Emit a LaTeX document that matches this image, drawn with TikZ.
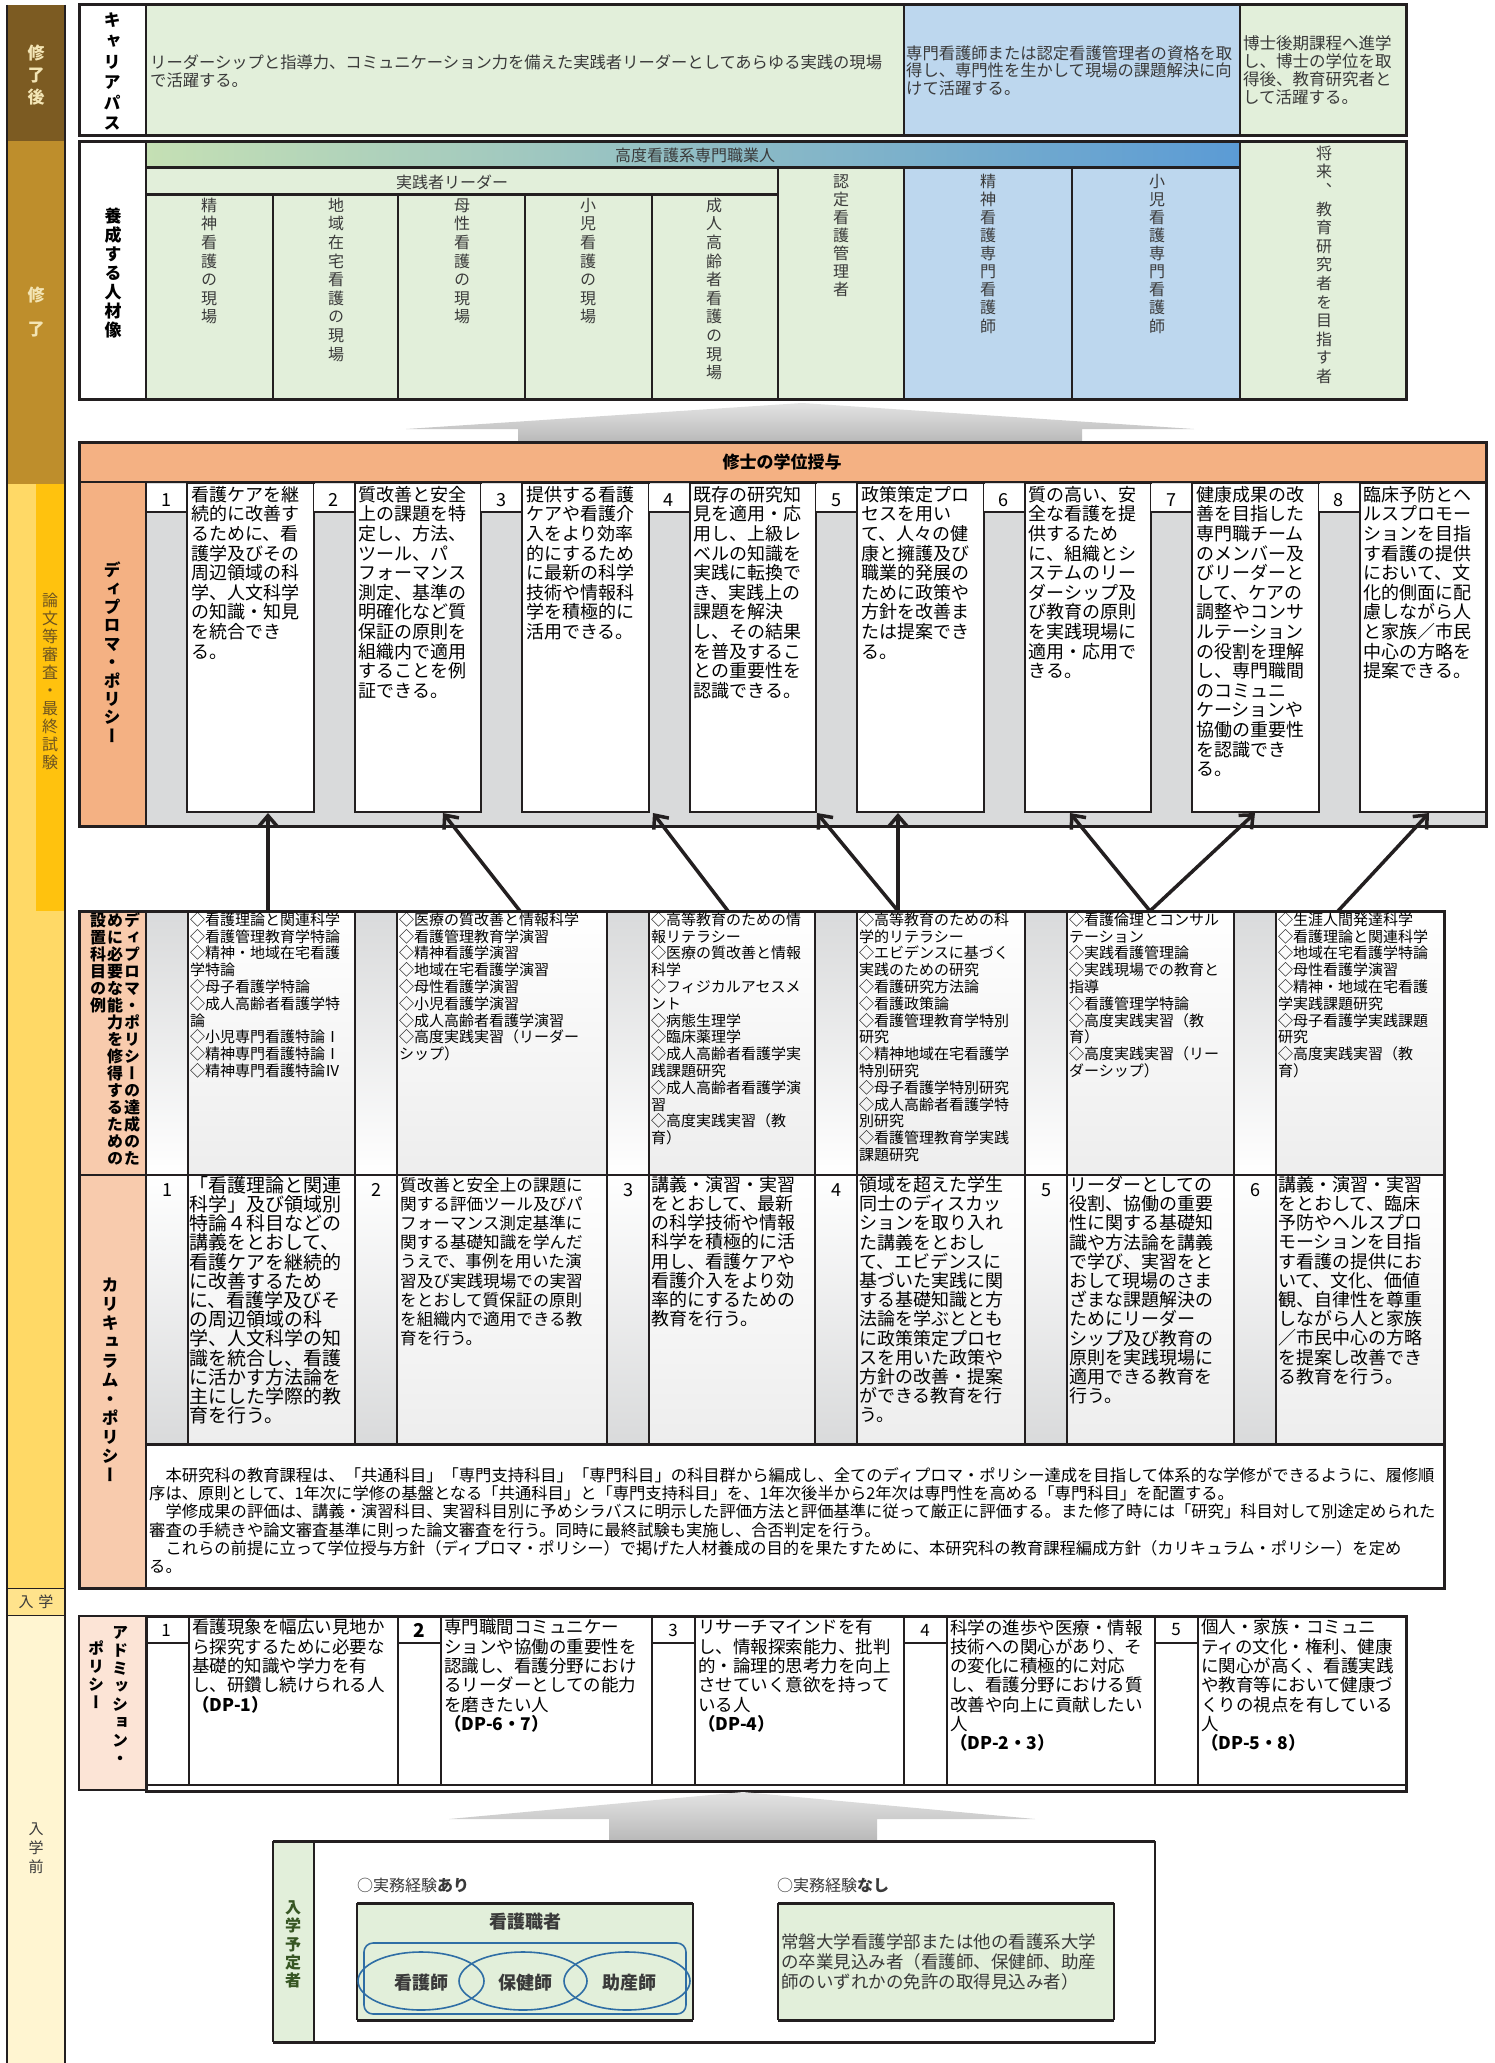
\documentclass[tikz,border=0pt]{standalone}
\usepackage{fontspec}
\setmainfont{Noto Sans CJK JP}
\newfontfamily\vjp{Noto Sans CJK JP}[RawFeature=+vert]
\usetikzlibrary{arrows.meta,shapes.geometric}
\definecolor{brownA}{HTML}{7C5B22}
\definecolor{goldA}{HTML}{BE8E2C}
\definecolor{yelA}{HTML}{FFD966}
\definecolor{yelB}{HTML}{FFC20E}
\definecolor{yelC}{HTML}{FFE38C}
\definecolor{creamA}{HTML}{FFF5D1}
\definecolor{greenA}{HTML}{E2EFDA}
\definecolor{blueA}{HTML}{BDD7EE}
\definecolor{orangeA}{HTML}{F4B183}
\definecolor{peachA}{HTML}{F8CBAD}
\definecolor{pinkA}{HTML}{FCE4D6}
\definecolor{grayA}{HTML}{D9DADB}
\definecolor{lineA}{HTML}{231F20}
\definecolor{txtA}{HTML}{3A3A3A}
\definecolor{dgreen}{HTML}{375623}
\definecolor{blueB}{HTML}{2F6EA5}
\definecolor{barL}{HTML}{C5E0B4}
\definecolor{barR}{HTML}{5B9BD5}
\definecolor{sbLight}{HTML}{F3E5B5}
\definecolor{sbDark}{HTML}{6E5420}

\ExplSyntaxOn
\NewDocumentCommand\vstack{O{1.15em}m}{
  \vbox{\baselineskip=#1\lineskiplimit=-\maxdimen\lineskip=0pt
    \tl_map_inline:nn {#2} {\hbox_to_wd:nn{1em}{\hss ##1\hss\vrule~height~.88em~depth~.12em~width~0pt}}}}
\ExplSyntaxOff

\tikzset{
  fr/.style={draw=lineA, line width=3pt},
  ln/.style={draw=lineA, line width=2pt},
  tx/.style={inner sep=0pt, anchor=north west, align=left, text=black},
  toptx/.style={inner sep=0pt, anchor=west, align=left, text=txtA},
  dptx/.style={tx, font=\fontsize{18}{19.6}\selectfont},
  lsttx/.style={tx, font=\fontsize{15}{16.8}\selectfont},
  cptx/.style={tx, font=\fontsize{18}{19.2}\selectfont},
  adtx/.style={tx, font=\fontsize{17.5}{19.3}\selectfont},
  num/.style={inner sep=0pt, font=\fontsize{18}{18}\selectfont},
  vlab/.style={inner sep=0pt, font=\vjp\bfseries\fontsize{17}{17}\selectfont},
  vcol/.style={inner sep=0pt, anchor=north, text=txtA, font=\vjp\fontsize{16}{16}\selectfont},
  arr/.style={draw=lineA, line width=3.5pt, -{Straight Barb[length=11pt,width=19pt]}},
}

\begin{document}
\begin{tikzpicture}[x=1pt,y=-1pt]
\useasboundingbox (0,0) rectangle (1495,2063);
\fill[white] (0,0) rectangle (1495,2063);

% ---------------- sidebar
\fill[brownA] (7,5) rectangle (65,141);
\fill[goldA] (7,141) rectangle (65,484);
\fill[yelA] (7,484) rectangle (65,1588);
\fill[yelB] (36,484) rectangle (65,911);
\fill[yelC] (7,1588) rectangle (65,1615);
\fill[creamA] (7,1615) rectangle (65,2063);
\draw[lineA, line width=0.8pt] (7,1588) -- (65,1588) (7,1615) -- (65,1615);
\draw[lineA, line width=2pt] (7,5) -- (7,2063) (65,5) -- (65,2063);
\node[vlab, text=sbLight, name=sbA] at (36,75) {\vstack[22pt]{修了後}};
\node[vlab, text=sbLight, name=sbB] at (36,312) {\vstack[34pt]{修了}};
\node[inner sep=0pt, text=sbDark, font=\vjp\fontsize{16}{16}\selectfont, name=sbC] at (50,681) {\vstack[18pt]{論文等審査・最終試験}};
\node[inner sep=0pt, text=txtA, font=\fontsize{15}{15}\selectfont, name=sbD] at (36,1602) {入\hspace{5pt}学};
\node[inner sep=0pt, text=txtA, font=\vjp\fontsize{15}{15}\selectfont, name=sbE] at (36,1848) {\vstack[19pt]{入学前}};

% ---------------- career path
\fill[white] (79,5) rectangle (146,136);
\fill[greenA] (146,5) rectangle (904,136);
\fill[blueA] (904,5) rectangle (1240,136);
\fill[greenA] (1240,5) rectangle (1406,136);
\draw[ln] (146,5) -- (146,136) (904,5) -- (904,136) (1240,5) -- (1240,136);
\draw[fr] (79,5) rectangle (1406,136);
\node[vlab, name=cpLab] at (112,72) {\vstack[20.6pt]{キャリアパス}};
\node[toptx, name=cpA, font=\fontsize{16.3}{18}\selectfont] at (150,71) {リーダーシップと指導力、コミュニケーション力を備えた実践者リーダーとしてあらゆる実践の現場\\で活躍する。};
\node[toptx, name=cpB, font=\fontsize{16.3}{17.7}\selectfont] at (906,70.5) {専門看護師または認定看護管理者の資格を取\\得し、専門性を生かして現場の課題解決に向\\けて活躍する。};
\node[toptx, name=cpC, font=\fontsize{16.5}{18}\selectfont] at (1243,70) {博士後期課程へ進学\\し、博士の学位を取\\得後、教育研究者と\\して活躍する。};

% ---------------- human resources
\fill[white] (79,142) rectangle (146,399);
\shade[left color=barL, right color=barR] (146,142) rectangle (1240,168);
\fill[greenA] (146,168) rectangle (904,399);
\fill[blueA] (904,168) rectangle (1240,399);
\fill[greenA] (1240,142) rectangle (1406,399);
\draw[ln] (146,142) -- (146,399);
\draw[lineA, line width=3pt] (146,168) -- (1240,168);
\draw[lineA, line width=3pt] (146,195) -- (778,195);
\draw[ln] (273,195) -- (273,399) (398,195) -- (398,399) (525,195) -- (525,399) (652,195) -- (652,399);
\draw[ln] (778,168) -- (778,399) (904,168) -- (904,399) (1072,168) -- (1072,399) (1240,142) -- (1240,399);
\draw[fr] (79,142) rectangle (1406,399);
\node[vlab, name=hrLab] at (113,273) {\vstack[18.9pt]{養成する人材像}};
\node[inner sep=0pt, text=txtA, font=\fontsize{16}{16}\selectfont, name=hrBar] at (695,155) {高度看護系専門職業人};
\node[inner sep=0pt, text=txtA, font=\fontsize{16}{16}\selectfont, name=hrLead] at (452,182) {実践者リーダー};
\node[vcol, name=hr1] at (209,197) {\vstack[18.6pt]{精神看護の現場}};
\node[vcol, name=hr2] at (336,197) {\vstack[18.6pt]{地域在宅看護の現場}};
\node[vcol, name=hr3] at (462,197) {\vstack[18.6pt]{母性看護の現場}};
\node[vcol, name=hr4] at (588,197) {\vstack[18.6pt]{小児看護の現場}};
\node[vcol, name=hr5] at (714,197) {\vstack[18.6pt]{成人高齢者看護の現場}};
\node[vcol, name=hr6] at (841,173) {\vstack[18pt]{認定看護管理者}};
\node[vcol, name=hr7] at (988,173) {\vstack[18.1pt]{精神看護専門看護師}};
\node[vcol, name=hr8] at (1157,173) {\vstack[18.1pt]{小児看護専門看護師}};
\node[vcol, name=hr9] at (1324,145) {\vstack[18.6pt]{将来、教育研究者を目指す者}};

% ---------------- big gray arrow 1
\shade[top color=gray!22, bottom color=gray!55] (802,403) -- (1194,429) -- (1082,429) -- (1082,442) -- (518,442) -- (518,429) -- (406,429) -- cycle;

% ---------------- diploma policy
\fill[orangeA] (79,442) rectangle (1486,482);
\fill[orangeA] (79,482) rectangle (146,826);
\fill[grayA] (146,482) rectangle (1486,826);
\foreach \s in {146,313.5,481,648.5,816,983.5,1151,1318.5}{
  \fill[white] (\s,484) rectangle (\s+41,512);
  \draw[ln] (\s,512) -- (\s+41,512);
  \draw[ln, fill=white] (\s+41,483) rectangle (\s+167.5,812);
}
\draw[ln] (79,482) -- (1486,482);
\draw[ln] (146,482) -- (146,826);
\draw[fr] (79,442) rectangle (1486,826);
\node[inner sep=0pt, font=\bfseries\fontsize{17}{17}\selectfont, name=dpHead] at (782,462) {修士の学位授与};
\node[vlab, name=dpLab] at (112,653) {\vstack[18.4pt]{ディプロマ・ポリシー}};
\node[num, name=dn1] at (166,500) {1};
\node[num, name=dn2] at (333.5,500) {2};
\node[num, name=dn3] at (501,500) {3};
\node[num, name=dn4] at (668.5,500) {4};
\node[num, name=dn5] at (836,500) {5};
\node[num, name=dn6] at (1003.5,500) {6};
\node[num, name=dn7] at (1171,500) {7};
\node[num, name=dn8] at (1338.5,500) {8};
\node[dptx, name=dt1] at (191,486) {看護ケアを継\\続的に改善す\\るために、看\\護学及びその\\周辺領域の科\\学、人文科学\\の知識・知見\\を統合でき\\る。};
\node[dptx, name=dt2] at (358.5,486) {質改善と安全\\上の課題を特\\定し、方法、\\ツール、パ\\フォーマンス\\測定、基準の\\明確化など質\\保証の原則を\\組織内で適用\\することを例\\証できる。};
\node[dptx, name=dt3] at (526,486) {提供する看護\\ケアや看護介\\入をより効率\\的にするため\\に最新の科学\\技術や情報科\\学を積極的に\\活用できる。};
\node[dptx, name=dt4] at (693.5,486) {既存の研究知\\見を適用・応\\用し、上級レ\\ベルの知識を\\実践に転換で\\き、実践上の\\課題を解決\\し、その結果\\を普及するこ\\との重要性を\\認識できる。};
\node[dptx, name=dt5] at (861,486) {政策策定プロ\\セスを用い\\て、人々の健\\康と擁護及び\\職業的発展の\\ために政策や\\方針を改善ま\\たは提案でき\\る。};
\node[dptx, name=dt6] at (1028.5,486) {質の高い、安\\全な看護を提\\供するため\\に、組織とシ\\ステムのリー\\ダーシップ及\\び教育の原則\\を実践現場に\\適用・応用で\\きる。};
\node[dptx, name=dt7] at (1196,486) {健康成果の改\\善を目指した\\専門職チーム\\のメンバー及\\びリーダーと\\して、ケアの\\調整やコンサ\\ルテーション\\の役割を理解\\し、専門職間\\のコミュニ\\ケーションや\\協働の重要性\\を認識でき\\る。};
\node[dptx, name=dt8] at (1363.5,486) {臨床予防とヘ\\ルスプロモー\\ションを目指\\す看護の提供\\において、文\\化的側面に配\\慮しながら人\\と家族／市民\\中心の方略を\\提案できる。};

% ---------------- curriculum
\fill[peachA] (79,911) rectangle (146,1588);
\foreach \s/\e in {146/355,355/607,607/815,815/1025,1025/1234,1234/1444}{
  \shade[top color=grayA, bottom color=white] (\s,911) rectangle (\s+42,1175);
  \shade[top color=white, bottom color=gray!14] (\s+42,911) rectangle (\e,1175);
  \shade[top color=white, bottom color=grayA] (\s,1175) rectangle (\s+42,1444);
  \shade[top color=white, bottom color=gray!14] (\s+42,1175) rectangle (\e,1444);
  \draw[ln] (\s,911) -- (\s,1444) (\s+42,911) -- (\s+42,1444);
}
\fill[white] (146,1444) rectangle (1444,1588);
\draw[ln] (79,1175) -- (1444,1175);
\draw[fr] (146,1444) -- (1444,1444);
\draw[ln] (146,911) -- (146,1588);
\draw[fr] (79,911) rectangle (1444,1588);
\node[inner sep=0pt, anchor=north, font=\vjp\bfseries\fontsize{16}{16}\selectfont, name=clR] at (132,912) {\vstack[17pt]{ディプロマ・ポリシーの達成のた}};
\node[inner sep=0pt, anchor=north, font=\vjp\bfseries\fontsize{16}{16}\selectfont, name=clM] at (115,912) {\vstack[17pt]{めに必要な能力を修得するための}};
\node[inner sep=0pt, anchor=north, font=\vjp\bfseries\fontsize{16}{16}\selectfont, name=clL] at (98,912) {\vstack[17pt]{設置科目の例}};
\node[vlab, name=cpolLab] at (110,1380) {\vstack[19pt]{カリキュラム・ポリシー}};

\node[lsttx, name=cl1] at (190,912) {◇看護理論と関連科学\\◇看護管理教育学特論\\◇精神・地域在宅看護\\学特論\\◇母子看護学特論\\◇成人高齢者看護学特\\論\\◇小児専門看護特論Ⅰ\\◇精神専門看護特論Ⅰ\\◇精神専門看護特論Ⅳ};
\node[lsttx, name=cl2] at (399,912) {◇医療の質改善と情報科学\\◇看護管理教育学演習\\◇精神看護学演習\\◇地域在宅看護学演習\\◇母性看護学演習\\◇小児看護学演習\\◇成人高齢者看護学演習\\◇高度実践実習（リーダー\\シップ）};
\node[lsttx, name=cl3] at (651,912) {◇高等教育のための情\\報リテラシー\\◇医療の質改善と情報\\科学\\◇フィジカルアセスメ\\ント\\◇病態生理学\\◇臨床薬理学\\◇成人高齢者看護学実\\践課題研究\\◇成人高齢者看護学演\\習\\◇高度実践実習（教\\育）};
\node[lsttx, name=cl4] at (859,912) {◇高等教育のための科\\学的リテラシー\\◇エビデンスに基づく\\実践のための研究\\◇看護研究方法論\\◇看護政策論\\◇看護管理教育学特別\\研究\\◇精神地域在宅看護学\\特別研究\\◇母子看護学特別研究\\◇成人高齢者看護学特\\別研究\\◇看護管理教育学実践\\課題研究};
\node[lsttx, name=cl5] at (1069,912) {◇看護倫理とコンサル\\テーション\\◇実践看護管理論\\◇実践現場での教育と\\指導\\◇看護管理学特論\\◇高度実践実習（教\\育）\\◇高度実践実習（リー\\ダーシップ）};
\node[lsttx, name=cl6] at (1278,912) {◇生涯人間発達科学\\◇看護理論と関連科学\\◇地域在宅看護学特論\\◇母性看護学演習\\◇精神・地域在宅看護\\学実践課題研究\\◇母子看護学実践課題\\研究\\◇高度実践実習（教\\育）};

\node[num, name=cn1] at (167,1190) {1};
\node[num, name=cn2] at (376,1190) {2};
\node[num, name=cn3] at (628,1190) {3};
\node[num, name=cn4] at (836,1190) {4};
\node[num, name=cn5] at (1046,1190) {5};
\node[num, name=cn6] at (1255,1190) {6};
\node[tx, name=ct1, font=\fontsize{19}{19.2}\selectfont] at (189,1176) {「看護理論と関連\\科学」及び領域別\\特論４科目などの\\講義をとおして、\\看護ケアを継続的\\に改善するため\\に、看護学及びそ\\の周辺領域の科\\学、人文科学の知\\識を統合し、看護\\に活かす方法論を\\主にした学際的教\\育を行う。};
\node[tx, name=ct2, font=\fontsize{16.6}{19.2}\selectfont] at (400,1177) {質改善と安全上の課題に\\関する評価ツール及びパ\\フォーマンス測定基準に\\関する基礎知識を学んだ\\うえで、事例を用いた演\\習及び実践現場での実習\\をとおして質保証の原則\\を組織内で適用できる教\\育を行う。};
\node[cptx, name=ct3] at (651,1176) {講義・演習・実習\\をとおして、最新\\の科学技術や情報\\科学を積極的に活\\用し、看護ケアや\\看護介入をより効\\率的にするための\\教育を行う。};
\node[cptx, name=ct4] at (859,1176) {領域を超えた学生\\同士のディスカッ\\ションを取り入れ\\た講義をとおし\\て、エビデンスに\\基づいた実践に関\\する基礎知識と方\\法論を学ぶととも\\に政策策定プロセ\\スを用いた政策や\\方針の改善・提案\\ができる教育を行\\う。};
\node[cptx, name=ct5] at (1069,1176) {リーダーとしての\\役割、協働の重要\\性に関する基礎知\\識や方法論を講義\\で学び、実習をと\\おして現場のさま\\ざまな課題解決の\\ためにリーダー\\シップ及び教育の\\原則を実践現場に\\適用できる教育を\\行う。};
\node[cptx, name=ct6] at (1278,1176) {講義・演習・実習\\をとおして、臨床\\予防やヘルスプロ\\モーションを目指\\す看護の提供にお\\いて、文化、価値\\観、自律性を尊重\\しながら人と家族\\／市民中心の方略\\を提案し改善でき\\る教育を行う。};

\node[tx, name=para, font=\fontsize{16.3}{18.3}\selectfont] at (149,1467) {　本研究科の教育課程は、「共通科目」「専門支持科目」「専門科目」の科目群から編成し、全てのディプロマ・ポリシー達成を目指して体系的な学修ができるように、履修順\\序は、原則として、1年次に学修の基盤となる「共通科目」と「専門支持科目」を、1年次後半から2年次は専門性を高める「専門科目」を配置する。\\　学修成果の評価は、講義・演習科目、実習科目別に予めシラバスに明示した評価方法と評価基準に従って厳正に評価する。また修了時には「研究」科目対して別途定められた\\審査の手続きや論文審査基準に則った論文審査を行う。同時に最終試験も実施し、合否判定を行う。\\　これらの前提に立って学位授与方針（ディプロマ・ポリシー）で掲げた人材養成の目的を果たすために、本研究科の教育課程編成方針（カリキュラム・ポリシー）を定め\\る。};

% ---------------- arrows curriculum -> DP
\coordinate (c1) at (268,911);
\coordinate (c2) at (520,911);
\coordinate (c3) at (728,911);
\coordinate (c4) at (898,911);
\coordinate (c5) at (1150,911);
\coordinate (c6) at (1338,911);
\coordinate (d1) at (268,813);
\coordinate (d2) at (443,813);
\coordinate (d3) at (653,813);
\coordinate (d4) at (817,813);
\coordinate (d5) at (898,813);
\coordinate (d6) at (1070,813);
\coordinate (d7) at (1255,813);
\coordinate (d8) at (1429,813);
\draw[arr] (c1) -- (d1);
\draw[arr] (c2) -- (d2);
\draw[arr] (c3) -- (d3);
\draw[arr] (c4) -- (d4);
\draw[arr] (c4) -- (d5);
\draw[arr] (c5) -- (d6);
\draw[arr] (c5) -- (d7);
\draw[arr] (c6) -- (d8);

% ---------------- admission policy
\fill[pinkA] (79,1616) rectangle (146,1790);
\draw[ln] (79,1616) rectangle (146,1790);
\fill[white] (146,1616) rectangle (1406,1790);
\foreach \s/\e in {146/398,398/652,652/904,904/1155,1155/1406}{
  \draw[ln] (\s+43,1616) -- (\s+43,1785);
  \draw[ln] (\s,1643) -- (\s+43,1643);
  \draw[ln] (\e,1616) -- (\e,1785);
}
\draw[lineA, line width=1.5pt] (146,1785) -- (1406,1785);
\draw[fr] (146,1616) rectangle (1406,1791);
\node[inner sep=0pt, anchor=north, font=\vjp\bfseries\fontsize{16}{16}\selectfont, name=apR] at (120,1624) {\vstack[18pt]{アドミッション・}};
\node[inner sep=0pt, anchor=north, font=\vjp\bfseries\fontsize{16}{16}\selectfont, name=apL] at (96,1640) {\vstack[18pt]{ポリシー}};
\node[num, font=\fontsize{17}{17}\selectfont, name=an1] at (166,1630) {1};
\node[num, font=\bfseries\fontsize{19}{19}\selectfont, name=an2] at (419,1630) {2};
\node[num, font=\fontsize{17}{17}\selectfont, name=an3] at (673,1630) {3};
\node[num, font=\fontsize{17}{17}\selectfont, name=an4] at (925,1630) {4};
\node[num, font=\fontsize{17}{17}\selectfont, name=an5] at (1176,1630) {5};
\node[adtx, name=at1] at (192,1619) {看護現象を幅広い見地か\\ら探究するために必要な\\基礎的知識や学力を有\\し、研鑽し続けられる人\\\textbf{（DP-1）}};
\node[adtx, name=at2] at (444,1619) {専門職間コミュニケー\\ションや協働の重要性を\\認識し、看護分野におけ\\るリーダーとしての能力\\を磨きたい人\\\textbf{（DP-6・7）}};
\node[adtx, name=at3] at (698,1619) {リサーチマインドを有\\し、情報探索能力、批判\\的・論理的思考力を向上\\させていく意欲を持って\\いる人\\\textbf{（DP-4）}};
\node[adtx, name=at4] at (950,1619) {科学の進歩や医療・情報\\技術への関心があり、そ\\の変化に積極的に対応\\し、看護分野における質\\改善や向上に貢献したい\\人\\\textbf{（DP-2・3）}};
\node[adtx, name=at5] at (1201,1619) {個人・家族・コミュニ\\ティの文化・権利、健康\\に関心が高く、看護実践\\や教育等において健康づ\\くりの視点を有している\\人\\\textbf{（DP-5・8）}};

% ---------------- big gray arrow 2
\shade[top color=gray!22, bottom color=gray!55] (743,1792) -- (1035,1819) -- (877,1819) -- (877,1841) -- (609,1841) -- (609,1819) -- (449,1819) -- cycle;

% ---------------- prospective students
\fill[white] (273,1841) rectangle (1155,2042);
\fill[greenA] (273,1841) rectangle (314,2042);
\draw[ln] (314,1841) -- (314,2042);
\draw[lineA, line width=1.2pt] (273,1841) -- (273,2042) (1155,1841) -- (1155,2042);
\draw[fr] (273,1841) -- (1155,1841) (273,2042) -- (1155,2042);
\node[inner sep=0pt, text=dgreen, font=\vjp\bfseries\fontsize{16}{16}\selectfont, name=psLab] at (293,1944) {\vstack[18.3pt]{入学予定者}};
\node[inner sep=0pt, anchor=west, text=txtA, font=\fontsize{16}{16}\selectfont, name=psA] at (357,1885) {○実務経験\textbf{あり}};
\node[inner sep=0pt, anchor=west, text=txtA, font=\fontsize{16}{16}\selectfont, name=psB] at (777,1885) {○実務経験\textbf{なし}};
\fill[greenA] (357,1903) rectangle (693,2020);
\draw[lineA, line width=1.2pt] (357,1903) -- (357,2020) (693,1903) -- (693,2020);
\draw[fr] (357,1903) -- (693,1903) (357,2020) -- (693,2020);
\node[inner sep=0pt, text=txtA, font=\bfseries\fontsize{18}{18}\selectfont, name=psC] at (525,1922) {看護職者};
\draw[blueB, line width=1.6pt, rounded corners=9pt] (364,1943) rectangle (686,2014);
\node[draw=blueB, line width=1.6pt, ellipse, minimum width=126pt, minimum height=58pt, inner sep=0pt, name=e1] at (421,1981) {};
\node[draw=blueB, line width=1.6pt, ellipse, minimum width=128pt, minimum height=58pt, inner sep=0pt, name=e2] at (523,1981) {};
\node[draw=blueB, line width=1.6pt, ellipse, minimum width=126pt, minimum height=58pt, inner sep=0pt, name=e3] at (627,1981) {};
\node[inner sep=0pt, text=txtA, font=\bfseries\fontsize{18}{18}\selectfont, name=k1] at (421,1983) {看護師};
\node[inner sep=0pt, text=txtA, font=\bfseries\fontsize{18}{18}\selectfont, name=k2] at (525,1983) {保健師};
\node[inner sep=0pt, text=txtA, font=\bfseries\fontsize{18}{18}\selectfont, name=k3] at (629,1983) {助産師};
\fill[greenA] (778,1903) rectangle (1114,2020);
\draw[lineA, line width=1.2pt] (778,1903) -- (778,2020) (1114,1903) -- (1114,2020);
\draw[fr] (778,1903) -- (1114,1903) (778,2020) -- (1114,2020);
\node[tx, text=txtA, font=\fontsize{17.5}{20}\selectfont, name=psD] at (781,1933) {常磐大学看護学部または他の看護系大学\\の卒業見込み者（看護師、保健師、助産\\師のいずれかの免許の取得見込み者）};
\end{tikzpicture}
\end{document}
